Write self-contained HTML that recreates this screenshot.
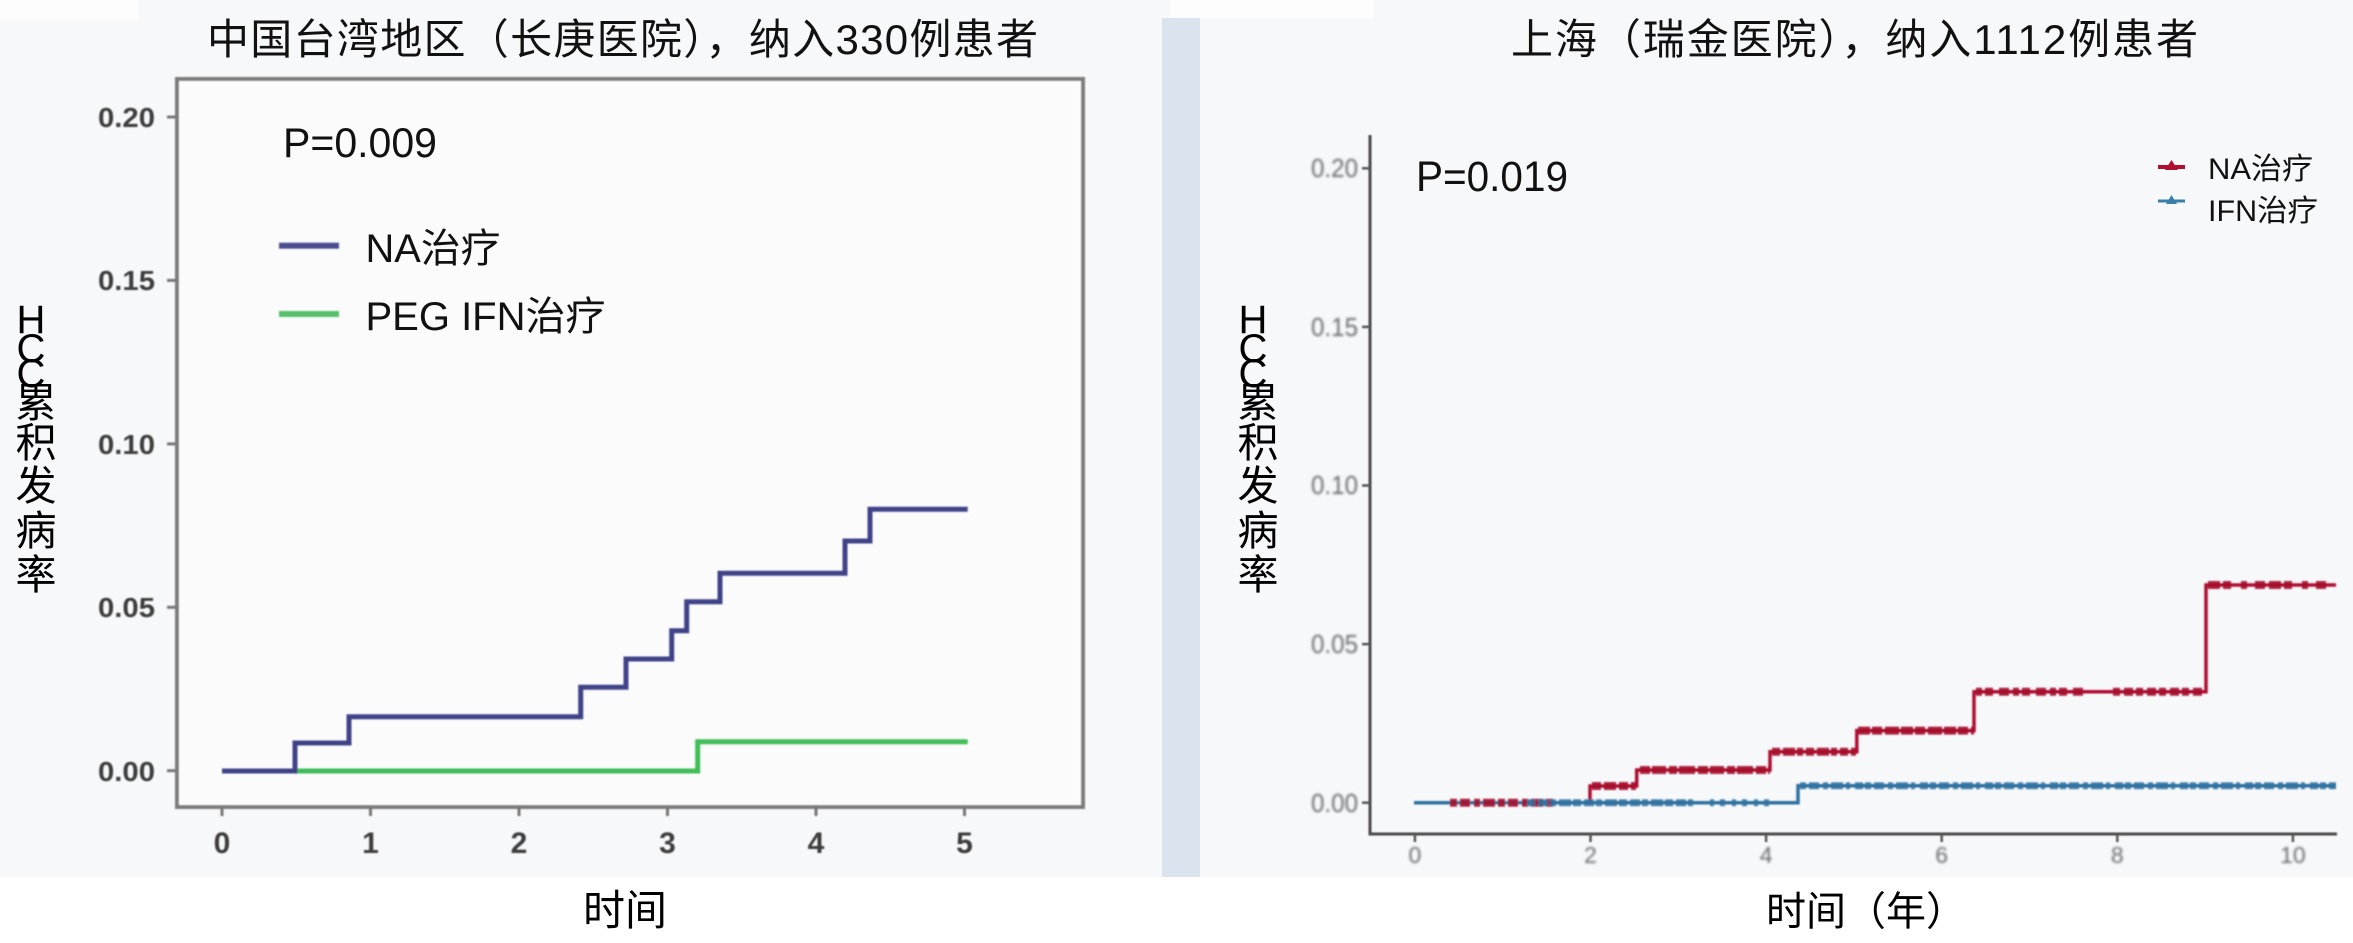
<!DOCTYPE html>
<html>
<head>
<meta charset="utf-8">
<style>
html,body{margin:0;padding:0;background:#fff;}
svg{display:block;}
text{font-family:"Liberation Sans","Noto Sans CJK SC",sans-serif;}
</style>
</head>
<body>
<svg width="2353" height="943" viewBox="0 0 2353 943" xmlns="http://www.w3.org/2000/svg">
<defs>
<filter id="b" filterUnits="userSpaceOnUse" x="0" y="0" width="2353" height="943"><feGaussianBlur stdDeviation="0.9"/></filter>
<filter id="b2" filterUnits="userSpaceOnUse" x="0" y="0" width="2353" height="943"><feGaussianBlur stdDeviation="1.2"/></filter>
<filter id="s" filterUnits="userSpaceOnUse" x="0" y="0" width="2353" height="943"><feGaussianBlur stdDeviation="0.7"/></filter>
</defs>

<!-- backgrounds -->
<rect x="0" y="0" width="2353" height="943" fill="#ffffff"/>
<rect x="0" y="0" width="2353" height="877" fill="#f7f8fa"/>
<rect x="0" y="0" width="138" height="20" fill="#fdfdfd"/>
<rect x="1170" y="0" width="204" height="18" fill="#fdfdfd"/>
<rect x="1162" y="18" width="38" height="859" fill="#dbe4ee"/>

<!-- ================= LEFT CHART ================= -->
<text x="207" y="54" font-size="42" fill="#111" textLength="831" lengthAdjust="spacing">中国台湾地区（长庚医院），纳入330例患者</text>

<rect x="177" y="79" width="906" height="728" fill="#fbfbfc" stroke="#7b7b7b" stroke-width="4" filter="url(#s)"/>

<!-- y ticks -->
<g stroke="#777" stroke-width="3" filter="url(#s)">
<line x1="167" y1="117" x2="177" y2="117"/>
<line x1="167" y1="280.4" x2="177" y2="280.4"/>
<line x1="167" y1="443.9" x2="177" y2="443.9"/>
<line x1="167" y1="607.3" x2="177" y2="607.3"/>
<line x1="167" y1="770.7" x2="177" y2="770.7"/>
</g>
<g font-size="28" font-weight="bold" fill="#3c3c3c" text-anchor="end" filter="url(#b)">
<text x="155" y="127" textLength="57" lengthAdjust="spacingAndGlyphs">0.20</text>
<text x="155" y="290" textLength="57" lengthAdjust="spacingAndGlyphs">0.15</text>
<text x="155" y="454" textLength="57" lengthAdjust="spacingAndGlyphs">0.10</text>
<text x="155" y="617" textLength="57" lengthAdjust="spacingAndGlyphs">0.05</text>
<text x="155" y="781" textLength="57" lengthAdjust="spacingAndGlyphs">0.00</text>
</g>
<!-- x ticks -->
<g stroke="#777" stroke-width="3" filter="url(#s)">
<line x1="222" y1="807" x2="222" y2="816"/>
<line x1="370.5" y1="807" x2="370.5" y2="816"/>
<line x1="519" y1="807" x2="519" y2="816"/>
<line x1="667.5" y1="807" x2="667.5" y2="816"/>
<line x1="816" y1="807" x2="816" y2="816"/>
<line x1="964.5" y1="807" x2="964.5" y2="816"/>
</g>
<g font-size="30" font-weight="bold" fill="#3c3c3c" text-anchor="middle" filter="url(#b)">
<text x="222" y="853">0</text>
<text x="370.5" y="853">1</text>
<text x="519" y="853">2</text>
<text x="667.5" y="853">3</text>
<text x="816" y="853">4</text>
<text x="964.5" y="853">5</text>
</g>

<!-- P value & legend -->
<text x="283" y="157" font-size="42" fill="#111" textLength="154" lengthAdjust="spacingAndGlyphs">P=0.009</text>
<g filter="url(#s)">
<rect x="279" y="242.7" width="60" height="6" fill="#4a4e90"/>
<rect x="279" y="311" width="60" height="6" fill="#58bf6c"/>
</g>
<text x="365.5" y="262" font-size="40" fill="#111" textLength="135" lengthAdjust="spacingAndGlyphs">NA治疗</text>
<text x="365.5" y="330" font-size="40" fill="#111" textLength="240" lengthAdjust="spacingAndGlyphs">PEG IFN治疗</text>

<!-- series -->
<g fill="none" stroke-width="5" stroke-linejoin="miter" filter="url(#s)">
<path d="M222,771 H697.7 V741.7 H967.7" stroke="#3fbd58"/>
<path d="M222,771 H295 V743 H349 V716.7 H580.7 V687.3 H626 V659 H671.7 V630.7 H686.7 V601.7 H720 V573.3 H845 V541 H870 V509.3 H967.7" stroke="#3f4288"/>
</g>

<!-- y label -->
<g font-size="40" fill="#000" text-anchor="middle">
<text x="31" y="333">H</text>
<text x="31" y="362">C</text>
<text x="31" y="387">C</text>
<text x="36" y="417" font-size="41">累</text>
<text x="36" y="457" font-size="41">积</text>
<text x="36" y="500" font-size="41">发</text>
<text x="36" y="545" font-size="41">病</text>
<text x="36" y="589" font-size="41">率</text>
</g>
<text x="583" y="925" font-size="42" fill="#000">时间</text>

<!-- ================= RIGHT CHART ================= -->
<text x="1511" y="54" font-size="42" fill="#111" textLength="687" lengthAdjust="spacing">上海（瑞金医院），纳入1112例患者</text>

<path d="M1370,135 V834 H2337" fill="none" stroke="#4a4a4a" stroke-width="3" filter="url(#s)"/>
<g stroke="#555" stroke-width="2.5" filter="url(#s)">
<line x1="1362" y1="168.3" x2="1370" y2="168.3"/>
<line x1="1362" y1="326.9" x2="1370" y2="326.9"/>
<line x1="1362" y1="485.5" x2="1370" y2="485.5"/>
<line x1="1362" y1="644.1" x2="1370" y2="644.1"/>
<line x1="1362" y1="802.7" x2="1370" y2="802.7"/>
<line x1="1414.9" y1="834" x2="1414.9" y2="842"/>
<line x1="1590.5" y1="834" x2="1590.5" y2="842"/>
<line x1="1766.1" y1="834" x2="1766.1" y2="842"/>
<line x1="1941.7" y1="834" x2="1941.7" y2="842"/>
<line x1="2117.3" y1="834" x2="2117.3" y2="842"/>
<line x1="2292.9" y1="834" x2="2292.9" y2="842"/>
</g>
<g font-size="26" fill="#6a6a6a" text-anchor="end" filter="url(#b2)">
<text x="1358" y="177" textLength="47" lengthAdjust="spacingAndGlyphs">0.20</text>
<text x="1358" y="336" textLength="47" lengthAdjust="spacingAndGlyphs">0.15</text>
<text x="1358" y="494" textLength="47" lengthAdjust="spacingAndGlyphs">0.10</text>
<text x="1358" y="653" textLength="47" lengthAdjust="spacingAndGlyphs">0.05</text>
<text x="1358" y="812" textLength="47" lengthAdjust="spacingAndGlyphs">0.00</text>
</g>
<g font-size="23" fill="#6a6a6a" text-anchor="middle" filter="url(#b2)">
<text x="1414.9" y="863">0</text>
<text x="1590.5" y="863">2</text>
<text x="1766.1" y="863">4</text>
<text x="1941.7" y="863">6</text>
<text x="2117.3" y="863">8</text>
<text x="2292.9" y="863">10</text>
</g>

<text x="1416" y="191" font-size="43" fill="#111" textLength="152" lengthAdjust="spacingAndGlyphs">P=0.019</text>

<!-- legend right -->
<rect x="2158" y="165" width="27" height="4" fill="#b01030"/>
<path d="M2171.5,160 L2178,170 L2165,170 Z" fill="#b01030"/>
<rect x="2158" y="199.5" width="27" height="3" fill="#3a7fa8"/>
<path d="M2171.5,195 L2177,204 L2166,204 Z" fill="#3a7fa8"/>
<text x="2208" y="179" font-size="30" fill="#111" textLength="105" lengthAdjust="spacingAndGlyphs">NA治疗</text>
<text x="2208" y="221" font-size="30" fill="#111" textLength="110" lengthAdjust="spacingAndGlyphs">IFN治疗</text>

<!-- series right -->
<g fill="none" filter="url(#s)">
<path d="M1414,802.7 H1590 V786 H1636.7 V770 H1770 V751.7 H1856.8 V730.6 H1974 V691.7 H2206 V585 H2336" stroke="#b01030" stroke-width="3.5"/>
<path d="M1414,802.7 H1798 V785.7 H2336" stroke="#2f72a0" stroke-width="3.5"/>
<!-- censor marks red -->
<g stroke="#a50d2c" stroke-width="8" opacity="0.9">
<path d="M1450,802.7 H1555" stroke-dasharray="7 3 10 4 6 3 12 3"/>
<path d="M1592,786 H1636" stroke-dasharray="9 3 12 3"/>
<path d="M1640,770 H1770" stroke-dasharray="10 2 14 3 8 2 16 3"/>
<path d="M1772,751.7 H1856" stroke-dasharray="8 3 12 2 6 3"/>
<path d="M1858,730.6 H1974" stroke-dasharray="12 2 10 3 14 2"/>
<path d="M1976,691.7 H2083" stroke-dasharray="6 3 8 6 10 4"/>
<path d="M2113,691.7 H2205" stroke-dasharray="7 4 9 3"/>
<path d="M2208,585 H2330" stroke-dasharray="12 3 8 10 6 8 10 4"/>
</g>
<!-- censor marks blue -->
<g stroke="#2f72a0" stroke-width="7" opacity="0.85">
<path d="M1527,802.7 H1693" stroke-dasharray="8 3 10 2 6 3 12 2"/>
<path d="M1710,802.7 H1770" stroke-dasharray="4 6 5 7"/>
<path d="M1800,785.7 H2336" stroke-dasharray="6 3 10 4 5 3 12 3 4 5 8 2"/>
</g>
</g>

<!-- y label right -->
<g font-size="40" fill="#000" text-anchor="middle">
<text x="1253" y="333">H</text>
<text x="1253" y="362">C</text>
<text x="1253" y="387">C</text>
<text x="1258" y="417" font-size="41">累</text>
<text x="1258" y="457" font-size="41">积</text>
<text x="1258" y="500" font-size="41">发</text>
<text x="1258" y="545" font-size="41">病</text>
<text x="1258" y="589" font-size="41">率</text>
</g>
<text x="1766" y="925" font-size="40" fill="#000">时间（年）</text>
</svg>
</body>
</html>
